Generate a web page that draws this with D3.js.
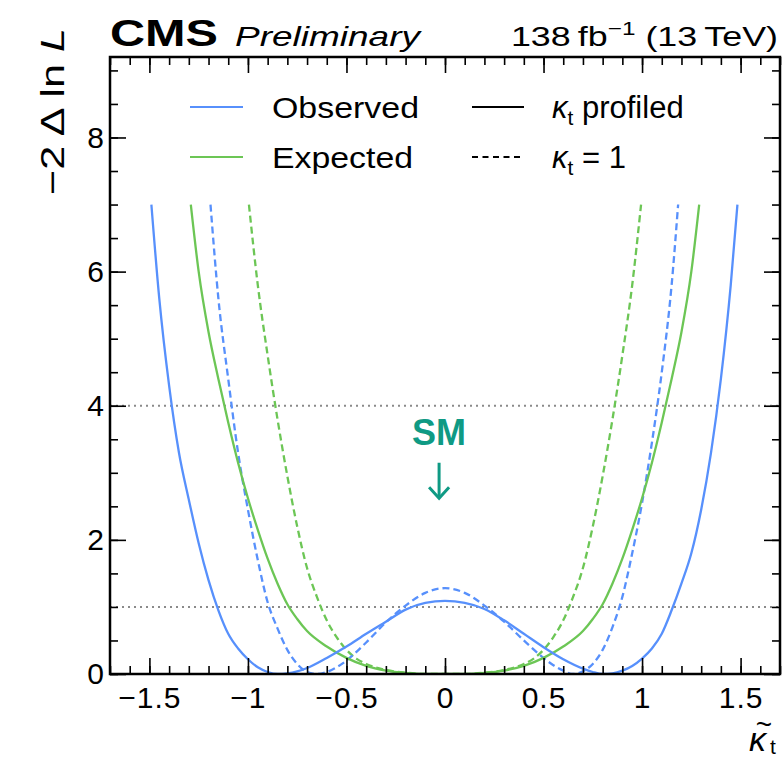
<!DOCTYPE html>
<head>
  <meta charset="utf-8">
  <script src="https://d3js.org/d3.v7.min.js"></script>
  <style>
    body { margin: 0; background: #fff; }
    text { font-family: "Liberation Sans", Arial, Helvetica, sans-serif; }
  </style>
</head>

<body>
  <svg width="784" height="757"></svg>

  <script>

  // observed, kappa_t profiled (solid blue)
  var obsProfK = [-1.49,-1.45,-1.4,-1.35,-1.3,-1.25,-1.2,-1.15,-1.1,-1.05,-1.0,-0.95,-0.9,-0.85,-0.8,-0.75,-0.7,-0.6,-0.5,-0.4,-0.3,-0.2,-0.1,0,
                  0.1,0.2,0.3,0.4,0.5,0.6,0.7,0.75,0.8,0.85,0.9,0.95,1.0,1.05,1.1,1.15,1.2,1.25,1.3,1.35,1.4,1.45,1.484];
  var obsProfV = [7,5.6,4.3,3.3,2.6,1.95,1.4,0.95,0.6,0.38,0.22,0.1,0.03,0.0,0.01,0.04,0.09,0.24,0.41,0.6,0.78,0.96,1.06,1.09,
                  1.06,0.97,0.8,0.6,0.4,0.22,0.08,0.03,0.0,0.01,0.05,0.12,0.23,0.38,0.6,0.95,1.35,1.8,2.45,3.3,4.4,5.8,7];

  // observed, kappa_t = 1 (dashed blue)
  var obsFixK = [-1.19,-1.15,-1.1,-1.05,-1.0,-0.95,-0.9,-0.85,-0.8,-0.75,-0.7,-0.65,-0.6,-0.55,-0.5,-0.4,-0.3,-0.2,-0.1,0,
                 0.1,0.2,0.3,0.4,0.5,0.55,0.6,0.65,0.7,0.75,0.8,0.85,0.9,0.95,1.0,1.05,1.1,1.15,1.183];
  var obsFixV = [7,5.6,4.4,3.3,2.45,1.7,1.07,0.68,0.36,0.15,0.03,0.0,0.03,0.1,0.2,0.47,0.77,1.02,1.21,1.28,
                 1.21,1.02,0.78,0.5,0.24,0.13,0.05,0.0,0.04,0.15,0.36,0.7,1.15,1.8,2.55,3.45,4.5,5.8,7];

  // expected, kappa_t profiled (solid green)
  var expProfK = [-1.29,-1.25,-1.2,-1.15,-1.1,-1.05,-1.0,-0.95,-0.9,-0.85,-0.8,-0.75,-0.7,-0.6,-0.5,-0.4,-0.3,-0.2,-0.1,0,
                  0.1,0.2,0.3,0.4,0.5,0.6,0.7,0.75,0.8,0.85,0.9,0.95,1.0,1.05,1.1,1.15,1.2,1.25,1.29];
  var expProfV = [7,6.0,5.1,4.4,3.75,3.15,2.62,2.15,1.72,1.35,1.04,0.82,0.64,0.41,0.24,0.12,0.05,0.015,0.0,0,
                  0.0,0.015,0.05,0.12,0.24,0.41,0.64,0.82,1.04,1.35,1.72,2.15,2.62,3.15,3.75,4.4,5.1,6.0,7];

  // expected, kappa_t = 1 (dashed green)
  var expFixK = [-0.995,-0.95,-0.9,-0.85,-0.8,-0.75,-0.7,-0.65,-0.6,-0.55,-0.5,-0.45,-0.4,-0.3,-0.2,-0.1,0,
                 0.1,0.2,0.3,0.4,0.45,0.5,0.55,0.6,0.65,0.7,0.75,0.8,0.85,0.9,0.95,0.995];
  var expFixV = [7,5.8,4.75,3.8,2.95,2.2,1.58,1.15,0.8,0.55,0.36,0.23,0.15,0.06,0.02,0.0,0,
                 0.0,0.02,0.06,0.15,0.23,0.36,0.55,0.8,1.15,1.58,2.2,2.95,3.8,4.75,5.8,7];

  var xMajor = [-1.5,-1,-0.5,0,0.5,1,1.5];
  var xMajorLabels = ["\u22121.5","\u22121","\u22120.5","0","0.5","1","1.5"];
  var yMajor = [0,2,4,6,8];
  var yMajorLabels = ["0","2","4","6","8"];
  var thresholds = [1,4];

  var svg = d3.select("svg"),
  width = +svg.attr("width"),
  height = +svg.attr("height");

  // plot box (note: "top" is reserved on window, so use prefixed names)
  var plotL = 110, plotR = 780, plotT = 57, plotB = 674;

  var x = d3.scaleLinear().domain([-1.7, 1.7]).range([plotL, plotR]);
  var y = d3.scaleLinear().domain([0, 9.2]).range([plotB, plotT]);

  var blue = "#5790fc", green = "#6cc655";

  svg.append("clipPath").attr("id", "plotclip")
  .append("rect")
  .attr("x", plotL).attr("y", plotT)
  .attr("width", plotR - plotL).attr("height", plotB - plotT);

  // dotted reference lines
  svg.append("g")
  .selectAll("line")
  .data(thresholds)
  .enter().append("line")
  .attr("x1", plotL).attr("x2", plotR)
  .attr("y1", function(d) { return y(d); })
  .attr("y2", function(d) { return y(d); })
  .attr("stroke", "#8a8a8a")
  .attr("stroke-width", 2)
  .attr("stroke-dasharray", "2,4");

  var series = [
    {k: expFixK, v: expFixV, color: green, dash: "7,4"},
    {k: obsFixK, v: obsFixV, color: blue, dash: "7,4"},
    {k: expProfK, v: expProfV, color: green, dash: null},
    {k: obsProfK, v: obsProfV, color: blue, dash: null}
  ];

  var line = d3.line()
  .x(function(d) { return x(d[0]); })
  .y(function(d) { return y(d[1]); })
  .curve(d3.curveMonotoneX);

  svg.append("g")
  .attr("clip-path", "url(#plotclip)")
  .selectAll("path")
  .data(series)
  .enter().append("path")
  .attr("d", function(s) { return line(d3.zip(s.k, s.v)); })
  .attr("fill", "none")
  .attr("stroke", function(s) { return s.color; })
  .attr("stroke-width", 2.3)
  .attr("stroke-dasharray", function(s) { return s.dash; });

  // axes, ticks pointing inward on all four sides
  var xMinor = d3.range(-17, 18).map(function(i) { return i / 10; });
  var yMinor = d3.range(0, 19).map(function(i) { return i / 2; });

  function styleAxis(g) {
    g.select(".domain").remove();
    g.selectAll(".tick line").attr("stroke", "#000").attr("stroke-width", 1.6);
  }

  svg.append("g").attr("transform", "translate(0," + plotB + ")")
  .call(d3.axisBottom(x).tickValues(xMinor).tickSize(-8).tickFormat(""))
  .call(styleAxis);
  svg.append("g").attr("transform", "translate(0," + plotT + ")")
  .call(d3.axisTop(x).tickValues(xMinor).tickSize(-8).tickFormat(""))
  .call(styleAxis);
  svg.append("g").attr("transform", "translate(" + plotL + ",0)")
  .call(d3.axisLeft(y).tickValues(yMinor).tickSize(-8).tickFormat(""))
  .call(styleAxis);
  svg.append("g").attr("transform", "translate(" + plotR + ",0)")
  .call(d3.axisRight(y).tickValues(yMinor).tickSize(-8).tickFormat(""))
  .call(styleAxis);

  var xAxis = svg.append("g").attr("transform", "translate(0," + plotB + ")")
  .call(d3.axisBottom(x).tickValues(xMajor).tickSize(-16).tickPadding(13)
    .tickFormat(function(d, i) { return xMajorLabels[i]; }))
  .call(styleAxis);
  svg.append("g").attr("transform", "translate(0," + plotT + ")")
  .call(d3.axisTop(x).tickValues(xMajor).tickSize(-16).tickFormat(""))
  .call(styleAxis);
  var yAxis = svg.append("g").attr("transform", "translate(" + plotL + ",0)")
  .call(d3.axisLeft(y).tickValues(yMajor).tickSize(-16).tickPadding(6)
    .tickFormat(function(d, i) { return yMajorLabels[i]; }))
  .call(styleAxis);
  svg.append("g").attr("transform", "translate(" + plotR + ",0)")
  .call(d3.axisRight(y).tickValues(yMajor).tickSize(-16).tickFormat(""))
  .call(styleAxis);

  svg.selectAll(".tick text")
  .attr("font-family", "Liberation Sans, Arial, sans-serif")
  .attr("font-size", 30)
  .attr("fill", "#000");
  xAxis.selectAll(".tick text").attr("letter-spacing", 1);

  // frame
  svg.append("rect")
  .attr("x", plotL).attr("y", plotT)
  .attr("width", plotR - plotL).attr("height", plotB - plotT)
  .attr("fill", "none")
  .attr("stroke", "#000")
  .attr("stroke-width", 2.5);

  // header
  svg.append("text")
  .attr("x", 110).attr("y", 46)
  .attr("font-size", 36).attr("font-weight", "bold")
  .attr("textLength", 108).attr("lengthAdjust", "spacingAndGlyphs")
  .text("CMS");

  svg.append("text")
  .attr("x", 235).attr("y", 46)
  .attr("font-size", 28).attr("font-style", "italic")
  .attr("textLength", 185).attr("lengthAdjust", "spacingAndGlyphs")
  .text("Preliminary");

  var lumi = svg.append("text")
  .attr("transform", "translate(778,46) scale(1.28,1)")
  .attr("text-anchor", "end")
  .attr("font-size", 28);
  lumi.append("tspan").text("138\u2009fb");
  lumi.append("tspan").attr("font-size", 19).attr("dy", -11).text("\u22121");
  lumi.append("tspan").attr("dy", 11).text(" (13\u2009TeV)");

  // y axis title
  svg.append("text")
  .attr("transform", "translate(64,28) rotate(-90)")
  .attr("text-anchor", "end")
  .attr("font-size", 34)
  .attr("textLength", 167).attr("lengthAdjust", "spacingAndGlyphs")
  .html("\u22122 \u0394 ln <tspan font-style='italic'>L</tspan>");

  // x axis title: kappa-tilde sub t
  svg.append("text")
  .attr("x", 749).attr("y", 751)
  .attr("font-size", 34).attr("font-style", "italic")
  .text("\u03ba");
  svg.append("text")
  .attr("x", 764).attr("y", 734)
  .attr("text-anchor", "middle")
  .attr("font-size", 28)
  .text("~");
  svg.append("text")
  .attr("x", 770).attr("y", 754)
  .attr("font-size", 21)
  .text("t");

  // legend
  var legendLabels = ["Observed", "Expected"];
  var legendColors = [blue, green];
  var legendWidths = [147, 141];
  var legendRows = [107, 157];

  var leg1 = svg.append("g").selectAll("g")
  .data(legendLabels)
  .enter().append("g")
  .attr("transform", function(d, i) { return "translate(0," + legendRows[i] + ")"; });

  leg1.append("line")
  .attr("x1", 190).attr("x2", 243)
  .attr("stroke", function(d, i) { return legendColors[i]; })
  .attr("stroke-width", 2.2);

  leg1.append("text")
  .attr("x", 272).attr("y", 11)
  .attr("font-size", 30)
  .attr("textLength", function(d, i) { return legendWidths[i]; })
  .attr("lengthAdjust", "spacingAndGlyphs")
  .text(function(d) { return d; });

  var styleLabels = [" profiled", " = 1"];
  var styleDash = [null, "6,4.5"];

  var leg2 = svg.append("g").selectAll("g")
  .data(styleLabels)
  .enter().append("g")
  .attr("transform", function(d, i) { return "translate(0," + legendRows[i] + ")"; });

  leg2.append("line")
  .attr("x1", 472).attr("x2", 524)
  .attr("stroke", "#000")
  .attr("stroke-width", 2)
  .attr("stroke-dasharray", function(d, i) { return styleDash[i]; });

  var t2 = leg2.append("text")
  .attr("x", 552).attr("y", 11)
  .attr("font-size", 31);
  t2.append("tspan").attr("font-style", "italic").text("\u03ba");
  t2.append("tspan").attr("font-size", 21).attr("dy", 7).text("t");
  t2.append("tspan").attr("dy", -7).text(function(d) { return d; });

  // SM marker
  var smK = -0.03, smTextV = 3.42, smArrowTop = 3.15, smArrowTip = 2.62;
  var teal = "#0f9a84";

  svg.append("text")
  .attr("x", x(smK)).attr("y", y(smTextV))
  .attr("text-anchor", "middle")
  .attr("font-family", "Liberation Sans Narrow, Liberation Sans, Arial, sans-serif")
  .attr("font-size", 36).attr("font-weight", "bold")
  .attr("fill", teal)
  .text("SM");

  svg.append("line")
  .attr("x1", x(smK)).attr("x2", x(smK))
  .attr("y1", y(smArrowTop)).attr("y2", y(smArrowTip) - 1)
  .attr("stroke", teal).attr("stroke-width", 3);

  svg.append("path")
  .attr("d", "M" + (x(smK) - 10) + "," + (y(smArrowTip) - 11) +
             "L" + x(smK) + "," + y(smArrowTip) +
             "L" + (x(smK) + 10) + "," + (y(smArrowTip) - 11))
  .attr("fill", "none")
  .attr("stroke", teal).attr("stroke-width", 3);

  </script>
</body>
